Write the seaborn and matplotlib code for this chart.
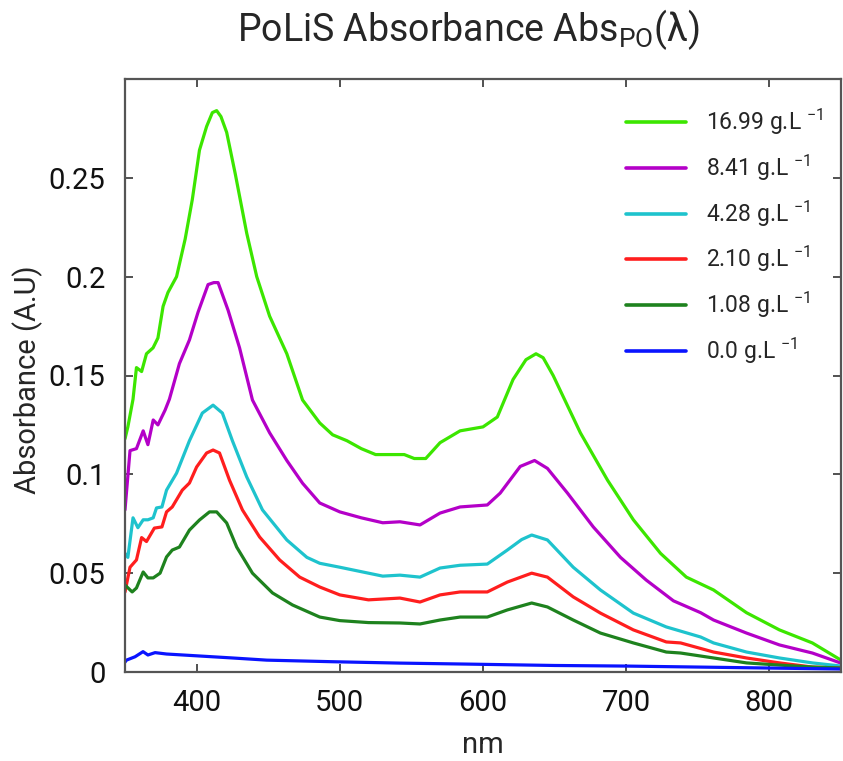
import numpy as np
import pandas as pd
import matplotlib
matplotlib.use("Agg")
import matplotlib.pyplot as plt
from matplotlib import font_manager
import seaborn as sns

# ---------------- data ----------------
labels = ["16.99 g.L $^{-1}$", "8.41 g.L $^{-1}$", "4.28 g.L $^{-1}$",
          "2.10 g.L $^{-1}$", "1.08 g.L $^{-1}$", "0.0 g.L $^{-1}$"]
colors = ["#3CE600", "#B400C8", "#1EC3CD", "#FF1E1E", "#1E821E", "#0A14FF"]

wl_1699 = [350, 352, 355.6, 358, 361.6, 365, 369.6, 373, 376.6, 380, 386, 392, 397, 402, 407, 411,
           414, 417, 421, 427, 435, 442, 451, 463, 474, 486, 495, 505, 515, 525, 538, 545, 552, 560,
           570, 584, 600, 610, 621, 630, 637, 642, 649, 668, 687, 705, 724, 742, 761, 784, 807, 830, 850]
abs_1699 = [0.118, 0.124, 0.138, 0.154, 0.152, 0.161, 0.164, 0.169, 0.185, 0.192, 0.200, 0.219, 0.239,
            0.264, 0.276, 0.283, 0.284, 0.281, 0.273, 0.252, 0.222, 0.200, 0.180, 0.161, 0.1376, 0.126,
            0.120, 0.117, 0.113, 0.110, 0.110, 0.110, 0.108, 0.108, 0.116, 0.122, 0.124, 0.129, 0.148,
            0.158, 0.161, 0.159, 0.150, 0.121, 0.097, 0.077, 0.060, 0.048, 0.0415, 0.030, 0.0213,
            0.0147, 0.006]

wl_841 = [350, 353.5, 358, 362.7, 366, 369.7, 373, 378, 381, 388, 395, 401, 408, 412, 415, 422, 430,
          439, 451, 463, 474, 486, 500, 515, 530, 542, 556, 570, 584, 603, 612, 626, 636, 645, 659, 677,
          696, 714, 733, 752, 761, 784, 807, 830, 850]
abs_841 = [0.082, 0.112, 0.113, 0.122, 0.115, 0.1275, 0.125, 0.1325, 0.138, 0.156, 0.168, 0.182, 0.196,
           0.197, 0.197, 0.183, 0.164, 0.1376, 0.121, 0.107, 0.0955, 0.0855, 0.081, 0.078, 0.0755,
           0.076, 0.0744, 0.0804, 0.0835, 0.0845, 0.0905, 0.104, 0.107, 0.103, 0.0905, 0.0734, 0.058,
           0.0465, 0.036, 0.030, 0.0263, 0.0197, 0.0137, 0.0096, 0.0045]

wl_428 = [350, 352, 355.6, 359, 362.7, 366, 369.7, 372, 375.8, 379, 386, 395, 404, 411.5, 418, 425,
          435, 446, 463, 477, 486, 500, 520, 530, 542, 556, 570, 584, 603, 617, 627, 634, 645, 663, 682,
          705, 728, 752, 761, 784, 807, 830, 850]
abs_428 = [0.060, 0.058, 0.078, 0.073, 0.077, 0.077, 0.078, 0.083, 0.0835, 0.092, 0.1006, 0.117, 0.131,
           0.135, 0.131, 0.117, 0.0987, 0.082, 0.0668, 0.058, 0.055, 0.053, 0.050, 0.0485, 0.049, 0.048,
           0.0526, 0.054, 0.0546, 0.0617, 0.067, 0.0693, 0.0668, 0.053, 0.0415, 0.0298, 0.0228,
           0.0177, 0.0147, 0.0101, 0.0071, 0.0046, 0.003]

wl_210 = [350, 353.5, 358, 361.6, 365, 370.5, 375.8, 379, 383, 390, 395, 400, 407, 411.5, 416, 423, 432,
          444, 458, 472, 486, 500, 520, 542, 556, 570, 584, 603, 617, 634, 645, 663, 682, 705, 728,
          738, 761, 784, 807, 830, 850]
abs_210 = [0.0405, 0.053, 0.0567, 0.068, 0.066, 0.0728, 0.0734, 0.081, 0.0835, 0.092, 0.0956, 0.1037,
           0.1108, 0.1123, 0.1108, 0.097, 0.082, 0.0683, 0.0567, 0.048, 0.043, 0.039, 0.0365, 0.0374,
           0.0354, 0.039, 0.0405, 0.0405, 0.0455, 0.050, 0.048, 0.038, 0.0298, 0.0213, 0.0152, 0.0147,
           0.0101, 0.0071, 0.0046, 0.0025, 0.002]

wl_108 = [350, 355, 358, 362.7, 366, 369.7, 374.5, 379, 383, 388, 395, 402, 409, 414, 421, 428, 439,
          453, 467, 486, 500, 520, 542, 556, 570, 584, 603, 617, 634, 645, 663, 682, 705, 728, 738,
          761, 784, 807, 830, 850]
abs_108 = [0.044, 0.0405, 0.0425, 0.0506, 0.0476, 0.0476, 0.050, 0.0582, 0.0617, 0.0632, 0.0718,
           0.0769, 0.081, 0.081, 0.0754, 0.0632, 0.050, 0.040, 0.0339, 0.0278, 0.026, 0.025, 0.0248,
           0.0243, 0.0263, 0.0278, 0.0278, 0.0314, 0.0349, 0.0329, 0.0263, 0.0197, 0.0147, 0.0101,
           0.0096, 0.0071, 0.0046, 0.0035, 0.0025, 0.002]

wl_00 = [350, 351, 357, 362.6, 366, 371, 379, 402, 425, 449, 495, 542, 589, 650, 700, 750, 800, 850]
abs_00 = [0.005, 0.006, 0.0077, 0.0103, 0.0086, 0.0098, 0.0091, 0.0081, 0.0071, 0.006, 0.0052, 0.0045,
          0.004, 0.0033, 0.003, 0.0025, 0.002, 0.0015]

yticks = [0, 0.05, 0.1, 0.15, 0.2, 0.25]
ytick_labels = ["0", "0.05", "0.1", "0.15", "0.2", "0.25"]
xticks = [400, 500, 600, 700, 800]

# ---------------- style ----------------
sns.set_theme(style="ticks")
fam = "DejaVu Sans"
for cand in ["Liberation Sans Narrow", "Roboto"]:
    try:
        font_manager.findfont(cand, fallback_to_default=False)
        fam = cand
        break
    except Exception:
        pass
plt.rcParams["font.family"] = [fam, "DejaVu Sans"]
plt.rcParams["mathtext.fontset"] = "custom"
plt.rcParams["mathtext.rm"] = fam
plt.rcParams["mathtext.it"] = fam
plt.rcParams["mathtext.default"] = "regular"

series = [(wl_1699, abs_1699), (wl_841, abs_841), (wl_428, abs_428),
          (wl_210, abs_210), (wl_108, abs_108), (wl_00, abs_00)]
frames = []
for lab, (w, a) in zip(labels, series):
    frames.append(pd.DataFrame({"nm": w, "abs": a, "conc": lab}))
df = pd.concat(frames, ignore_index=True)

fig = plt.figure(figsize=(8.43, 7.61), dpi=100)
ax = fig.add_axes([125 / 843, 1 - 672 / 761, (841 - 125) / 843, (672 - 79) / 761])

sns.lineplot(data=df, x="nm", y="abs", hue="conc", hue_order=labels,
             palette=dict(zip(labels, colors)), linewidth=2.3, sort=False,
             estimator=None, ax=ax)
for ln in ax.get_lines():
    ln.set_solid_joinstyle("round")

ax.set_xlim(350, 850)
ax.set_ylim(0, 0.3)
ax.set_xticks(xticks)
ax.set_yticks(yticks)
ax.set_yticklabels(ytick_labels)
ax.tick_params(axis="both", which="both", direction="in", length=6, width=1.2,
               color="#333333", top=True, right=True, labelsize=21,
               labelcolor="#111111")
ax.tick_params(axis="y", pad=14)
ax.tick_params(axis="x", pad=12)
for sp in ax.spines.values():
    sp.set_color("#555555")
    sp.set_linewidth(1.6)

ax.set_xlabel("nm", fontsize=21, labelpad=10)
ax.set_ylabel("Absorbance (A.U)", fontsize=21)
ax.yaxis.set_label_coords(-(125 - 43) / 716, (672 - 380) / 593)

fig.text(468 / 843, 1 - 30 / 761, r"PoLiS Absorbance Abs$_{PO}$($\lambda$)",
         fontsize=27, ha="center", va="center")

leg = ax.legend(loc="upper left", bbox_to_anchor=(0.70, 0.953), frameon=False,
                fontsize=16.5, handlelength=2.6, handletextpad=0.9, labelspacing=0.68,
                borderpad=0, borderaxespad=0)
for line in leg.get_lines():
    line.set_linewidth(2.6)

fig.savefig("out.png", dpi=100)
